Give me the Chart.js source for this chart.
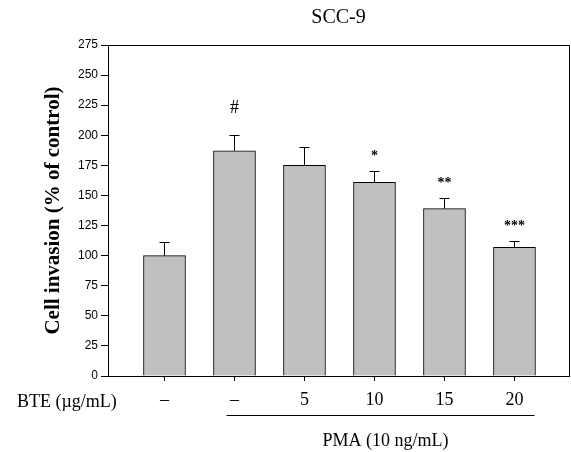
<!DOCTYPE html>
<html>
<head>
<meta charset="utf-8">
<script src="https://cdn.jsdelivr.net/npm/chart.js@4/dist/chart.umd.min.js"></script>
<style>
  html, body { margin: 0; padding: 0; background: #fff; }
  #wrap { width: 571px; height: 452px; }
</style>
</head>
<body>
<div id="wrap"><canvas id="chart-scc9" width="571" height="452"></canvas></div>
<script>
// SCC-9 invasion data
const groups = [1, 2, 3, 4, 5, 6];
const doseLabels = ["\u2013", "\u2013", "5", "10", "15", "20"];
const invasion = [100, 187, 175, 161, 139, 107];
const invasionSE = [11, 13, 15, 9, 9, 5];
const marks = ["", "#", "", "*", "**", "***"];
const yTicks = [0, 25, 50, 75, 100, 125, 150, 175, 200, 225, 250, 275];

const serif = "'Liberation Serif', 'Times New Roman', serif";
const sans = "'Liberation Sans', Arial, sans-serif";

// error bars, significance marks, frame and the extra labels
const extras = {
    id: 'extras',
    afterDatasetsDraw(chart) {
        const ctx = chart.ctx;
        const xs = chart.scales.x;
        const ys = chart.scales.y;
        const area = chart.chartArea;

        ctx.save();
        ctx.strokeStyle = '#000';
        ctx.lineWidth = 1;

        groups.forEach((g, i) => {
            const px = Math.round(xs.getPixelForValue(g)) + 0.5;
            const top = ys.getPixelForValue(invasion[i]);
            const err = Math.round(ys.getPixelForValue(invasion[i] + invasionSE[i])) + 0.5;
            ctx.beginPath();
            ctx.moveTo(px, top);
            ctx.lineTo(px, err);
            ctx.moveTo(px - 5, err);
            ctx.lineTo(px + 5, err);
            ctx.stroke();

            if (marks[i]) {
                ctx.fillStyle = '#000';
                ctx.textAlign = 'center';
                ctx.textBaseline = 'alphabetic';
                if (marks[i] === '#') {
                    ctx.font = "18px " + serif;
                    ctx.fillText(marks[i], px, err - 23);
                } else {
                    ctx.font = "bold 14px " + serif;
                    ctx.fillText(marks[i], px, err - 12);
                }
            }
        });

        // top and right frame
        ctx.beginPath();
        ctx.moveTo(area.left, Math.round(area.top) + 0.5);
        ctx.lineTo(Math.round(area.right) + 0.5, Math.round(area.top) + 0.5);
        ctx.lineTo(Math.round(area.right) + 0.5, area.bottom);
        ctx.stroke();

        // title
        ctx.fillStyle = '#000';
        ctx.font = "20px " + serif;
        ctx.textAlign = 'center';
        ctx.textBaseline = 'alphabetic';
        ctx.fillText('SCC-9', (area.left + area.right) / 2, 23);

        // row label
        ctx.font = "18px " + serif;
        ctx.textAlign = 'left';
        ctx.fillText('BTE (\u00b5g/mL)', 17, 407);

        // PMA bracket line
        const x0 = xs.getPixelForValue(2) - 8;
        const x1 = xs.getPixelForValue(6) + 20;
        ctx.beginPath();
        ctx.moveTo(x0, 415.5);
        ctx.lineTo(x1, 415.5);
        ctx.stroke();
        ctx.textAlign = 'center';
        ctx.fillText('PMA (10 ng/mL)', (x0 + x1) / 2 + 5, 446);

        ctx.restore();
    }
};

const ctx = document.getElementById("chart-scc9").getContext("2d");
window.myChartScc9 = new Chart(ctx, {
    type: 'bar',
    data: {
        datasets: [{
            label: 'Cell invasion',
            data: groups.map((g, i) => ({ x: g, y: invasion[i] })),
            backgroundColor: '#c0c0c0',
            borderColor: '#000',
            borderWidth: 1,
            barThickness: 42,
            borderSkipped: 'bottom'
        }]
    },
    options: {
        responsive: false,
        animation: false,
        layout: {
            padding: { top: 45, right: 2, left: 0, bottom: 0 }
        },
        plugins: {
            legend: { display: false },
            title: { display: false },
            tooltip: { enabled: false }
        },
        scales: {
            x: {
                type: 'linear',
                offset: false,
                min: 0.193,
                max: 6.779,
                afterBuildTicks: (scale) => {
                    scale.ticks = groups.map(v => ({ value: v }));
                },
                afterFit: (scale) => {
                    scale.height = 76;
                },
                grid: {
                    drawOnChartArea: false,
                    drawTicks: true,
                    tickLength: 5,
                    offset: false,
                    color: '#000'
                },
                border: { display: true, color: '#000', width: 1 },
                ticks: {
                    autoSkip: false,
                    maxRotation: 0,
                    padding: 8,
                    color: '#000',
                    font: { family: serif, size: 18 },
                    callback: (value) => doseLabels[groups.indexOf(value)] ?? ''
                }
            },
            y: {
                min: 0,
                max: 275,
                afterBuildTicks: (scale) => {
                    scale.ticks = yTicks.map(v => ({ value: v }));
                },
                afterFit: (scale) => {
                    scale.width = 108;
                },
                grid: {
                    drawOnChartArea: false,
                    drawTicks: true,
                    tickLength: 7,
                    color: '#000'
                },
                border: { display: true, color: '#000', width: 1 },
                ticks: {
                    padding: 3,
                    color: '#000',
                    font: { family: sans, size: 12 }
                },
                title: {
                    display: true,
                    text: 'Cell invasion (% of control)',
                    color: '#000',
                    font: { family: serif, size: 21, weight: 'bold' },
                    padding: { top: 41, bottom: 0 }
                }
            }
        }
    },
    plugins: [extras]
});
</script>
</body>
</html>
